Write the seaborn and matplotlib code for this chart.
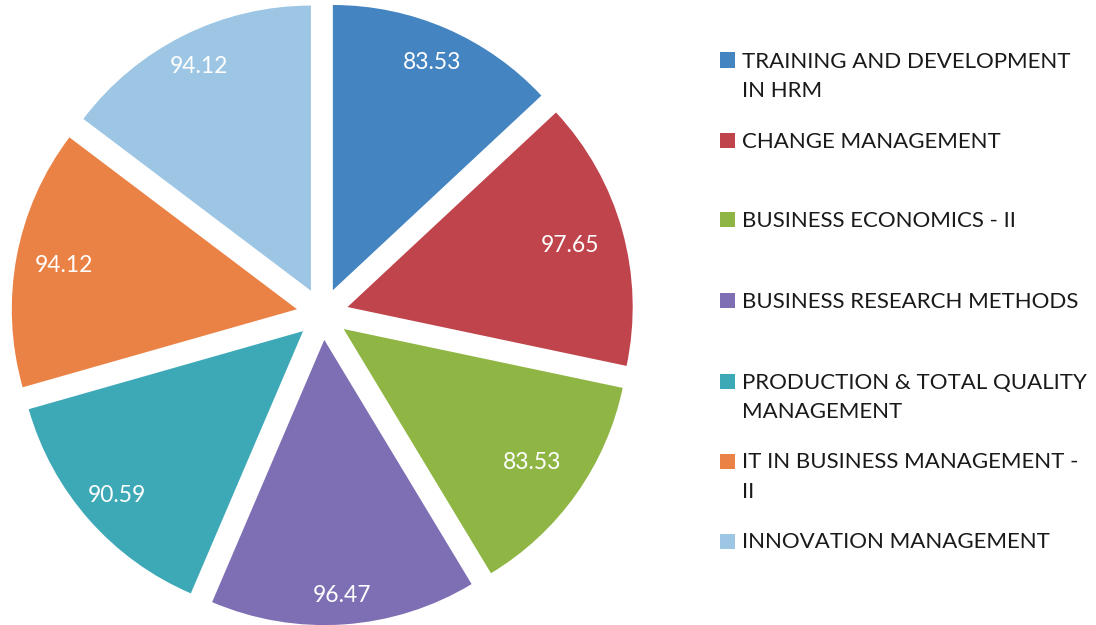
import matplotlib
matplotlib.use("Agg")
import matplotlib.pyplot as plt
import seaborn as sns
import numpy as np
from matplotlib.patches import Rectangle

# data
subjects = [
    "TRAINING AND DEVELOPMENT\nIN HRM",
    "CHANGE MANAGEMENT",
    "BUSINESS ECONOMICS - II",
    "BUSINESS RESEARCH METHODS",
    "PRODUCTION & TOTAL QUALITY\nMANAGEMENT",
    "IT IN BUSINESS MANAGEMENT -\nII",
    "INNOVATION MANAGEMENT",
]
scores = [83.53, 97.65, 83.53, 96.47, 90.59, 94.12, 94.12]
colors = ["#4484C1", "#C0444B", "#8FB644", "#7E6FB4", "#3DA9B7", "#EB8245", "#9DC6E5"]

# layout: label distance per slice (fraction of radius), legend rows (pixel y from top)
label_dist = [0.87, 0.81, 0.81, 0.9, 0.87, 0.83, 0.88]
legend_y = [60, 140, 219, 300, 381, 461, 541]

W, H = 1096, 625

sns.set_theme(style="white")
plt.rcParams['font.family'] = ['Lato', 'DejaVu Sans']

fig = plt.figure(figsize=(W / 100, H / 100), dpi=100)
ax = fig.add_axes([0, 0, 1, 1])

total = sum(scores)
wedges, texts, autotexts = ax.pie(
    scores,
    colors=colors,
    startangle=90,
    counterclock=False,
    explode=[0.091] * len(scores),
    autopct=lambda p: f"{p * total / 100:.2f}",
    pctdistance=0.84,
    wedgeprops=dict(linewidth=0),
    textprops=dict(color="white", fontsize=16.5),
)
# Excel "best fit" puts labels at slightly different depths
for w, t, d in zip(wedges, autotexts, label_dist):
    ang = np.deg2rad((w.theta1 + w.theta2) / 2)
    cx, cy = w.center
    t.set_position((cx + d * w.r * np.cos(ang), cy + d * w.r * np.sin(ang)))

ax.set_xlim(-1.1308, 2.7122)
ax.set_ylim(-1.0905, 1.1010)
ax.set_aspect("equal")
ax.axis("off")

# legend drawn as squares + text, Excel style
for lab, col, y in zip(subjects, colors, legend_y):
    fy = 1 - y / H
    fig.patches.append(Rectangle((720 / W, fy - 7.5 / H), 15 / W, 15 / H,
                                 transform=fig.transFigure, facecolor=col,
                                 edgecolor="none"))
    fig.text(742 / W, fy + 8.5 / H, lab, ha="left", va="top", fontsize=16,
             color="#1a1a1a", linespacing=1.58, transform=fig.transFigure)

fig.savefig("out.png", dpi=100, facecolor="white")
